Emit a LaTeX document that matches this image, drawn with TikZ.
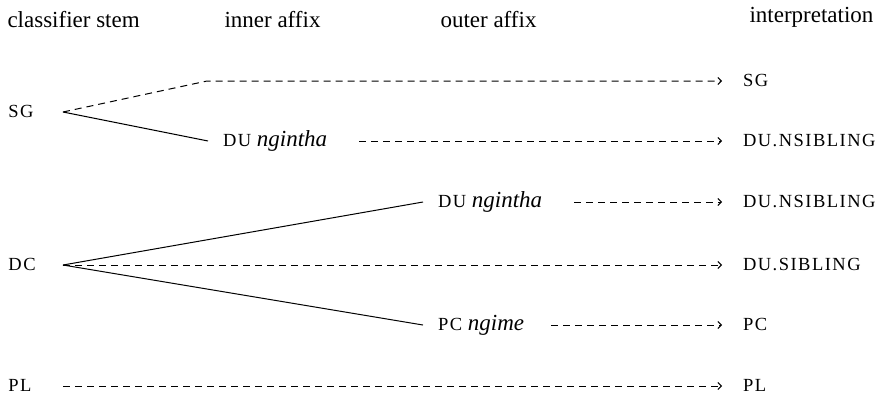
\documentclass[tikz,border=0pt]{standalone}
\usepackage{fontspec}
\setmainfont{Liberation Serif}
\newfontfamily\glossfont[LetterSpace=8]{Liberation Serif}
\usetikzlibrary{arrows.meta}
% gloss labels (number categories)
\newcommand{\gl}[1]{{\glossfont\fontsize{18.5}{20}\selectfont #1}}

\begin{document}
\begin{tikzpicture}[x=1pt,y=-1pt,line width=1pt,
    font=\fontsize{23}{27}\selectfont,
    head/.style={anchor=base west,inner sep=0pt},
    stem/.style={anchor=base west,inner sep=0pt,text width=54pt,text height=11pt,text depth=0pt},
    affix/.style={anchor=base west,inner sep=0pt,outer xsep=15pt,text height=11pt,text depth=0pt},
    reading/.style={anchor=base west,inner sep=0pt,outer xsep=21pt,text height=11pt,text depth=0pt},
    pointer/.style={dash pattern=on 7pt off 5pt,-{Straight Barb[length=3.5pt,width=7pt]}}]
  \useasboundingbox (0,0) rectangle (885,397);

  % column heads
  \node[head] (h-stem) at (7,27) {classifier stem};
  \node[head] (h-inner) at (224,27) {inner affix};
  \node[head] (h-outer) at (440,27) {outer affix};
  \node[head] (h-interp) at (749,22) {interpretation};

  % stems
  \node[stem] (sg) at (8,117.5) {\gl{SG}};
  \node[stem] (dc) at (8,270.5) {\gl{DC}};
  \node[stem] (pl) at (8,391.5) {\gl{PL}};

  % affixes
  \coordinate (fork) at (207,81);
  \node[affix] (in-du) at (208,146.5) {\gl{DU} \emph{ngintha}};
  \node[affix] (out-du) at (423,207.5) {\gl{DU} \emph{ngintha}};
  \node[affix] (out-pc) at (423,330.5) {\gl{PC} \emph{ngime}};

  % readings
  \node[reading] (r-sg) at (722,86.5) {\gl{SG}};
  \node[reading] (r-nsib1) at (722,146.5) {\gl{DU.NSIBLING}};
  \node[reading] (r-nsib2) at (722,207.5) {\gl{DU.NSIBLING}};
  \node[reading] (r-sib) at (722,270.5) {\gl{DU.SIBLING}};
  \node[reading] (r-pc) at (722,330.5) {\gl{PC}};
  \node[reading] (r-pl) at (722,391.5) {\gl{PL}};

  \draw[pointer] (sg.east) -- (fork) -- (r-sg.west);
  \draw (sg.east) -- (in-du.west);
  \draw[pointer] ([xshift=17pt]in-du.east) -- (r-nsib1.west);

  \draw (dc.east) -- (out-du.west);
  \draw[pointer] (dc.east) -- (r-sib.west);
  \draw (dc.east) -- (out-pc.west);
  \draw[pointer] ([xshift=17pt]out-du.east) -- (r-nsib2.west);
  \draw[pointer] ([xshift=12pt]out-pc.east) -- (r-pc.west);

  \draw[pointer] (pl.east) -- (r-pl.west);
\end{tikzpicture}
\end{document}
